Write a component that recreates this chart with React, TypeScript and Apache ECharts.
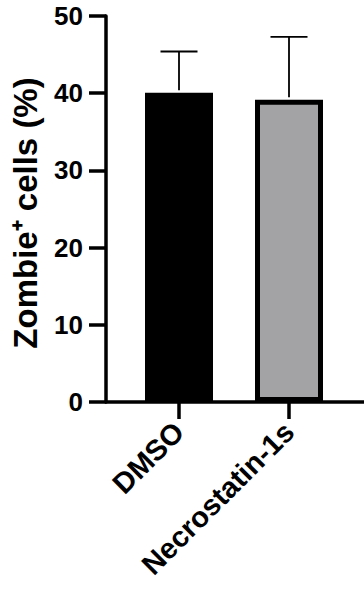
import React, { useEffect, useRef } from "react";
import * as echarts from "echarts";

const categories = ["DMSO", "Necrostatin-1s"];
const means = [40.05, 39.15];
const upperErrors = [45.4, 47.3];
const barColors = ["#000000", "#a3a3a6"];
const yTicks = { min: 0, max: 50, interval: 10 };

const FONT = "Arial";

export default function App() {
  const ref = useRef<HTMLDivElement>(null);
  useEffect(() => {
    if (!ref.current) return;
    const chart = echarts.init(ref.current, undefined, { renderer: "svg" });
    const errData = categories.map((c, i) => [i, means[i], upperErrors[i]]);
    chart.setOption({
      animation: false,
      backgroundColor: "#ffffff",
      grid: [
        { left: 124, right: 20, top: 16, bottom: 191 },
        { left: 106, right: 0, top: 16, bottom: 191 },
      ],
      xAxis: [
        {
          type: "category",
          gridIndex: 0,
          data: categories,
          axisLine: { show: false },
          axisTick: { show: true, alignWithLabel: true, length: 17, lineStyle: { color: "#000", width: 3.5 } },
          axisLabel: {
            rotate: 45,
            margin: 25,
            color: "#000",
            fontSize: 29,
            fontWeight: "bold",
            fontFamily: FONT,
          },
          splitLine: { show: false },
        },
        {
          type: "value",
          gridIndex: 1,
          min: 0,
          max: 1,
          axisLine: { show: true, lineStyle: { color: "#000", width: 3.5 } },
          axisTick: { show: false },
          axisLabel: { show: false },
          splitLine: { show: false },
        },
      ],
      yAxis: [
        {
          type: "value",
          gridIndex: 0,
          show: false,
          min: yTicks.min,
          max: yTicks.max,
          interval: yTicks.interval,
        },
        {
          type: "value",
          gridIndex: 1,
          min: yTicks.min,
          max: yTicks.max,
          interval: yTicks.interval,
          name: "Zombie⁺ cells (%)",
          nameLocation: "middle",
          nameGap: 64,
          nameTextStyle: {
            color: "#000",
            fontSize: 33,
            fontWeight: "bold",
            fontFamily: FONT,
            padding: [0, 8, 0, 0],
          },
          axisLine: { show: true, lineStyle: { color: "#000", width: 3.5 } },
          axisTick: { show: true, length: 17, lineStyle: { color: "#000", width: 3.5 } },
          axisLabel: { color: "#000", fontSize: 26, fontWeight: "bold", fontFamily: FONT, margin: 23 },
          splitLine: { show: false },
        },
      ],
      series: [
        {
          type: "bar",
          xAxisIndex: 0,
          yAxisIndex: 0,
          barWidth: 68,
          data: means.map((v, i) => ({
            value: v,
            itemStyle: { color: barColors[i], borderColor: "#000", borderWidth: 5 },
          })),
          z: 2,
        },
        {
          type: "custom",
          xAxisIndex: 0,
          yAxisIndex: 0,
          data: errData,
          z: 3,
          renderItem: (params: any, api: any) => {
            const idx = api.value(0);
            const base = api.coord([idx, api.value(1)]);
            const top = api.coord([idx, api.value(2)]);
            const half = 18.5;
            const style = { stroke: "#000", lineWidth: 1.8 };
            return {
              type: "group",
              children: [
                { type: "line", shape: { x1: base[0], y1: base[1] - 2.5, x2: top[0], y2: top[1] }, style },
                { type: "line", shape: { x1: top[0] - half, y1: top[1], x2: top[0] + half, y2: top[1] }, style },
              ],
            };
          },
        },
      ],
    });
    return () => chart.dispose();
  }, []);
  return <div ref={ref} style={{ width: 364, height: 593, position: "absolute", left: 0, top: 0 }} />;
}
